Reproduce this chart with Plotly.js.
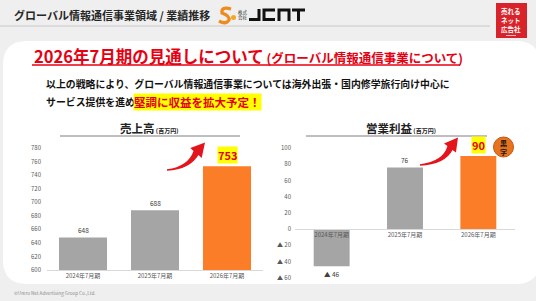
<!DOCTYPE html>
<html>
<head>
<meta charset="utf-8">
<script src="https://cdn.plot.ly/plotly-3.0.1.min.js"></script>
<style>
html,body{margin:0;padding:0;background:#efefef;}
#chart{width:536px;height:301px;}
</style>
</head>
<body>
<div id="chart"></div>
<script>
// ---- data ----
const categories = ['2024年7月期', '2025年7月期', '2026年7月期'];
const salesValues = [648, 688, 753];
const profitValues = [-46, 76, 90];
const salesTickVals = [600, 620, 640, 660, 680, 700, 720, 740, 760, 780];
const profitTickVals = [-60, -40, -20, 0, 20, 40, 60, 80, 100];
const profitTickText = ['▲ 60', '▲ 40', '▲ 20', '0', '20', '40', '60', '80', '100'];
const barColors = ['#a5a5a5', '#a5a5a5', '#fb7d27'];

// ---- helpers (pixel -> paper) ----
const W = 536, H = 301;
const FONT = '"Noto Sans CJK JP", "Noto Sans", sans-serif';
const fx = x => x / W;
const fy = y => 1 - y / H;
const P = (x, y) => fx(x).toFixed(5) + ',' + fy(y).toFixed(5);

function arrowPath(tail, ctrl, neck, tip, wTail, wNeck, headW) {
  let dx = tip[0] - neck[0], dy = tip[1] - neck[1];
  const L = Math.hypot(dx, dy); dx /= L; dy /= L;
  const nx = -dy, ny = dx;
  let tx = ctrl[0] - tail[0], ty = ctrl[1] - tail[1];
  const TL = Math.hypot(tx, ty); tx /= TL; ty /= TL;
  const mx = -ty, my = tx;
  const a1 = [tail[0] + mx * wTail / 2, tail[1] + my * wTail / 2];
  const a2 = [tail[0] - mx * wTail / 2, tail[1] - my * wTail / 2];
  const n1 = [neck[0] + nx * wNeck / 2, neck[1] + ny * wNeck / 2];
  const n2 = [neck[0] - nx * wNeck / 2, neck[1] - ny * wNeck / 2];
  const h1 = [neck[0] + nx * headW / 2, neck[1] + ny * headW / 2];
  const h2 = [neck[0] - nx * headW / 2, neck[1] - ny * headW / 2];
  const wm = (wTail + wNeck) / 4;
  const c1 = [ctrl[0] + (mx + nx) / 2 * wm, ctrl[1] + (my + ny) / 2 * wm];
  const c2 = [ctrl[0] - (mx + nx) / 2 * wm, ctrl[1] - (my + ny) / 2 * wm];
  return 'M' + P(...a1) + ' Q' + P(...c1) + ' ' + P(...n1) + ' L' + P(...h1) +
    ' L' + P(...tip) + ' L' + P(...h2) + ' L' + P(...n2) + ' Q' + P(...c2) + ' ' + P(...a2) + ' Z';
}

function roundRect(x0, y0, x1, y1, r) {
  return 'M' + P(x0 + r, y0) + ' L' + P(x1 - r, y0) + ' Q' + P(x1, y0) + ' ' + P(x1, y0 + r) +
    ' L' + P(x1, y1 - r) + ' Q' + P(x1, y1) + ' ' + P(x1 - r, y1) +
    ' L' + P(x0 + r, y1) + ' Q' + P(x0, y1) + ' ' + P(x0, y1 - r) +
    ' L' + P(x0, y0 + r) + ' Q' + P(x0, y0) + ' ' + P(x0 + r, y0) + ' Z';
}

// ---- geometry of the two plots (px) ----
const leftX = [47, 263], leftY = [148, 270];
const rightX = [295, 515], rightY = [148, 277.6];
const y2dom = [fy(rightY[1]), fy(rightY[0])];
const zeroPos = y2dom[0] + (0 - (-60)) / 160 * (y2dom[1] - y2dom[0]);

const traces = [
  {type: 'bar', x: categories, y: salesValues, xaxis: 'x', yaxis: 'y', width: 0.667,
   marker: {color: barColors}, hoverinfo: 'skip'},
  {type: 'bar', x: categories, y: profitValues, xaxis: 'x2', yaxis: 'y2', width: 0.49,
   marker: {color: barColors}, hoverinfo: 'skip'}
];

const annotations = [];
// value labels
salesValues.forEach((v, i) => {
  const last = i === salesValues.length - 1;
  annotations.push({
    x: categories[i], y: v, xref: 'x', yref: 'y', yanchor: 'bottom', showarrow: false,
    yshift: last ? 2 : 1, text: last ? '<b>' + v + '</b>' : String(v),
    font: {family: FONT, size: last ? 11 : 6.5, color: last ? '#e60012' : '#404040'},
    bgcolor: last ? '#ffff00' : 'rgba(0,0,0,0)', borderpad: 0
  });
});
profitValues.forEach((v, i) => {
  const last = i === profitValues.length - 1;
  const neg = v < 0;
  annotations.push({
    x: categories[i], y: v, xref: 'x2', yref: 'y2', yanchor: neg ? 'top' : 'bottom', showarrow: false,
    yshift: neg ? -2 : (last ? 2 : 1),
    text: last ? '<b>' + v + '</b>' : (neg ? '▲ ' + Math.abs(v) : String(v)),
    font: {family: FONT, size: last ? 11 : 6.5, color: last ? '#e60012' : '#404040'},
    bgcolor: last ? '#ffff00' : 'rgba(0,0,0,0)', borderpad: 0
  });
});

function txt(x, y, text, size, color, anchor, extra) {
  return Object.assign({xref: 'paper', yref: 'paper', x: fx(x), y: fy(y), text: text, showarrow: false,
    xanchor: anchor || 'left', yanchor: 'middle', font: {family: FONT, size: size, color: color}}, extra || {});
}

// header
annotations.push(txt(12, 15, '<b>グローバル情報通信事業領域 / 業績推移</b>', 11, '#262626'));
annotations.push(txt(243, 12, '株式', 4.5, '#333', 'center'));
annotations.push(txt(243, 18, '会社', 4.5, '#333', 'center'));
// red corner box text
annotations.push(txt(511, 11, '<b>売れる</b>', 6.5, '#ffffff', 'center'));
annotations.push(txt(511, 20, '<b>ネット</b>', 6.5, '#ffffff', 'center'));
annotations.push(txt(511, 29, '<b>広告社</b>', 6.5, '#ffffff', 'center'));
// main title
annotations.push(txt(32, 56, '<b>2026年7月期の見通しについて</b><b><span style="font-size:12.5px"> (グローバル情報通信事業について)</span></b>', 16.5, '#e60012'));
// body
annotations.push(txt(44, 84, '<b>以上の戦略により、グローバル情報通信事業については海外出張・国内修学旅行向け中心に</b>', 9.9, '#111111'));
annotations.push(txt(44, 102, '<b>サービス提供を進め</b>', 9.9, '#111111'));
annotations.push(txt(133, 102, '<b>堅調に収益を拡大予定！</b>', 11.5, '#e60012', 'left', {bgcolor: '#ffff00', borderpad: 0}));
// chart titles
annotations.push(txt(149, 128, '<b>売上高</b><b><span style="font-size:6px"> (百万円)</span></b>', 11.5, '#222222', 'center'));
annotations.push(txt(401, 128, '<b>営業利益</b><b><span style="font-size:6px"> (百万円)</span></b>', 11.5, '#222222', 'center'));
// badge text
annotations.push(txt(503.5, 147, '<b>黒<br>字</b>', 7, '#1a1a1a', 'center'));
// copyright
annotations.push(txt(12, 293, '©Ureru Net Advertising Group Co.,Ltd.', 4.6, '#8c8c8c'));

const shapes = [
  // white card
  {type: 'path', xref: 'paper', yref: 'paper', path: roundRect(3, 41, 540, 284, 24),
   fillcolor: '#ffffff', line: {width: 0}, layer: 'below'},
  // header rule
  {type: 'line', xref: 'paper', yref: 'paper', x0: 0, x1: fx(490), y0: fy(26), y1: fy(26),
   line: {color: '#c8c8c8', width: 1}},
  // red corner box
  {type: 'rect', xref: 'paper', yref: 'paper', x0: fx(496), x1: fx(527), y0: fy(3), y1: fy(38),
   fillcolor: '#d9232a', line: {width: 0}},
  {type: 'line', xref: 'paper', yref: 'paper', x0: fx(506), x1: fx(516), y0: fy(35.5), y1: fy(35.5),
   line: {color: '#f4b7b9', width: 1}},
  // title underline
  {type: 'line', xref: 'paper', yref: 'paper', x0: fx(32), x1: fx(460), y0: fy(65), y1: fy(65),
   line: {color: '#e60012', width: 1.3}},
  // chart title rules
  {type: 'line', xref: 'paper', yref: 'paper', x0: fx(60), x1: fx(240), y0: fy(136), y1: fy(136),
   line: {color: '#7f7f7f', width: 1}},
  {type: 'line', xref: 'paper', yref: 'paper', x0: fx(306), x1: fx(487), y0: fy(136), y1: fy(136),
   line: {color: '#7f7f7f', width: 1}},
  // arrows
  {type: 'path', xref: 'paper', yref: 'paper',
   path: arrowPath([167, 170], [189, 168], [196, 153], [205, 142.5], 1.5, 6.5, 15),
   fillcolor: '#e3141b', line: {width: 0}},
  {type: 'path', xref: 'paper', yref: 'paper',
   path: arrowPath([420, 165], [444, 163], [450, 148], [458, 137.5], 1.5, 6.5, 15),
   fillcolor: '#e3141b', line: {width: 0}},
  // badge circle
  {type: 'circle', xref: 'paper', yref: 'paper', x0: fx(493.5), x1: fx(513.5), y0: fy(157), y1: fy(137),
   fillcolor: '#e9731d', line: {color: '#c2560f', width: 1}},
  // logo swirl
  {type: 'path', xref: 'paper', yref: 'paper',
   path: 'M' + P(231, 9) + ' Q' + P(221, 6) + ' ' + P(222, 13) + ' Q' + P(230, 16) + ' ' + P(229, 20) + ' Q' + P(226, 25) + ' ' + P(219, 21),
   line: {color: '#f08a1c', width: 3.2}, fillcolor: 'rgba(0,0,0,0)'},
  {type: 'circle', xref: 'paper', yref: 'paper', x0: fx(231), x1: fx(236), y0: fy(20), y1: fy(15),
   fillcolor: '#f5a623', line: {width: 0}},
  // JCNT letters
  {type: 'path', xref: 'paper', yref: 'paper', path: 'M' + P(249, 19.5) + ' L' + P(259, 19.5) + ' L' + P(259, 9),
   line: {color: '#111', width: 3}, fillcolor: 'rgba(0,0,0,0)'},
  {type: 'path', xref: 'paper', yref: 'paper', path: 'M' + P(275, 10) + ' L' + P(264, 10) + ' L' + P(264, 19.5) + ' L' + P(275, 19.5),
   line: {color: '#111', width: 3}, fillcolor: 'rgba(0,0,0,0)'},
  {type: 'path', xref: 'paper', yref: 'paper', path: 'M' + P(279, 21) + ' L' + P(279, 10) + ' L' + P(289, 10) + ' L' + P(289, 21),
   line: {color: '#111', width: 3}, fillcolor: 'rgba(0,0,0,0)'},
  {type: 'path', xref: 'paper', yref: 'paper', path: 'M' + P(292, 10) + ' L' + P(305, 10) + ' M' + P(298.5, 10) + ' L' + P(298.5, 21),
   line: {color: '#111', width: 3}, fillcolor: 'rgba(0,0,0,0)'}
];

const tickFont = {family: FONT, size: 6, color: '#595959'};
const layout = {
  width: W, height: H,
  margin: {l: 0, r: 0, t: 0, b: 0},
  paper_bgcolor: '#efefef', plot_bgcolor: 'rgba(0,0,0,0)',
  showlegend: false,
  xaxis: {domain: [fx(leftX[0]), fx(leftX[1])], anchor: 'y', showline: true, linecolor: '#d9d9d9', linewidth: 1,
    ticks: '', tickfont: tickFont, showgrid: false, zeroline: false, fixedrange: true},
  yaxis: {domain: [fy(leftY[1]), fy(leftY[0])], anchor: 'x', range: [600, 780], tickvals: salesTickVals,
    showgrid: false, zeroline: false, showline: false, ticks: '', tickfont: tickFont, ticklabelstandoff: 5, fixedrange: true},
  xaxis2: {domain: [fx(rightX[0]), fx(rightX[1])], anchor: 'free', position: zeroPos, showline: true,
    linecolor: '#d9d9d9', linewidth: 1, ticks: '', tickfont: tickFont, showgrid: false, zeroline: false, fixedrange: true},
  yaxis2: {domain: y2dom, anchor: 'x2', range: [-60, 100], tickvals: profitTickVals, ticktext: profitTickText,
    showgrid: false, zeroline: false, showline: false, ticks: '', tickfont: tickFont, ticklabelstandoff: 3, fixedrange: true},
  annotations: annotations,
  shapes: shapes
};

Plotly.newPlot('chart', traces, layout, {displayModeBar: false, staticPlot: true});
</script>
</body>
</html>
